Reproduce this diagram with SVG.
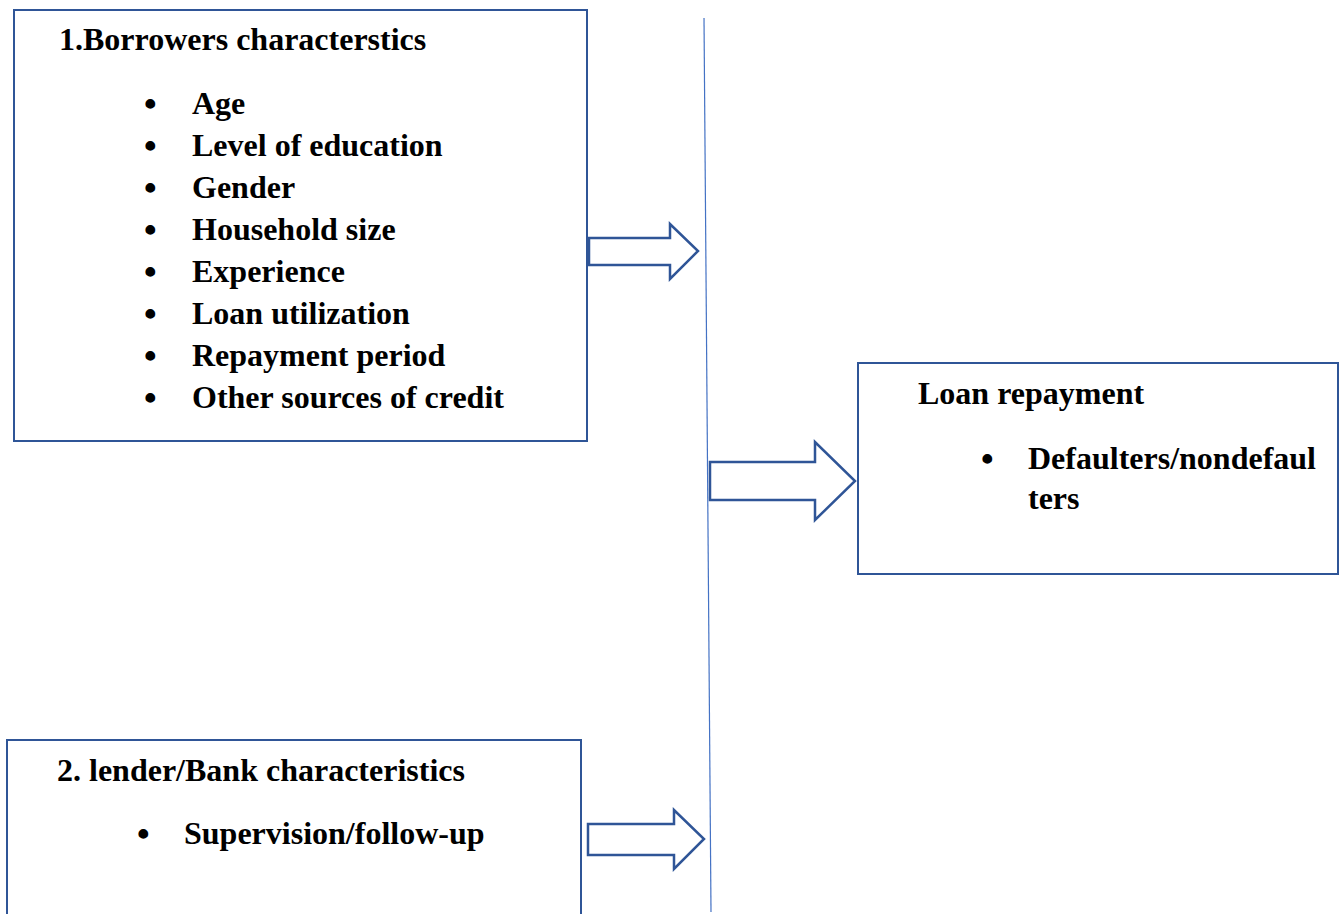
<svg xmlns="http://www.w3.org/2000/svg" width="1344" height="914" viewBox="0 0 1344 914">
<style>
.box{fill:#fff;stroke:#2F5597;stroke-width:2}
.arr{fill:#fff;stroke:#2F5597;stroke-width:2.5;stroke-linejoin:miter}
.t{font-family:"Liberation Serif","Times New Roman",serif;font-weight:bold;font-size:32px;fill:#000}
.b{font-family:"Liberation Serif","Times New Roman",serif;font-weight:bold;font-size:36px;fill:#000}
</style>
<rect width="1344" height="914" fill="#fff"/>
<g id="connectors">
<line x1="704" y1="18" x2="711" y2="912" stroke="#4472C4" stroke-width="1.2"/>
<polygon class="arr" points="589,238 670,238 670,224 698,251 670,279 670,265 589,265"/>
<polygon class="arr" points="710,462 815,462 815,442 855,481 815,520 815,500 710,500"/>
<polygon class="arr" points="588,824 674,824 674,810 704,839 674,869 674,855 588,855"/>
</g>
<g id="borrowers">
<rect class="box" x="14" y="10" width="573" height="431"/>
<text class="t" x="59" y="50">1.Borrowers characterstics</text>
<g class="t">
<text class="b" x="144" y="116">•</text><text x="192" y="114">Age</text>
<text class="b" x="144" y="158">•</text><text x="192" y="156">Level of education</text>
<text class="b" x="144" y="200">•</text><text x="192" y="198">Gender</text>
<text class="b" x="144" y="242">•</text><text x="192" y="240">Household size</text>
<text class="b" x="144" y="284">•</text><text x="192" y="282">Experience</text>
<text class="b" x="144" y="326">•</text><text x="192" y="324">Loan utilization</text>
<text class="b" x="144" y="368">•</text><text x="192" y="366">Repayment period</text>
<text class="b" x="144" y="410">•</text><text x="192" y="408">Other sources of credit</text>
</g>
</g>
<g id="lender">
<rect class="box" x="7" y="740" width="574" height="190"/>
<text class="t" x="57" y="781">2. lender/Bank characteristics</text>
<text class="b" x="137" y="846">•</text>
<text class="t" x="184" y="844">Supervision/follow-up</text>
</g>
<g id="loan">
<rect class="box" x="858" y="363" width="480" height="211"/>
<text class="t" x="918" y="404">Loan repayment</text>
<text class="b" x="981" y="471">•</text>
<text class="t" x="1028" y="469">Defaulters/nondefaul</text>
<text class="t" x="1028" y="509">ters</text>
</g>
</svg>
